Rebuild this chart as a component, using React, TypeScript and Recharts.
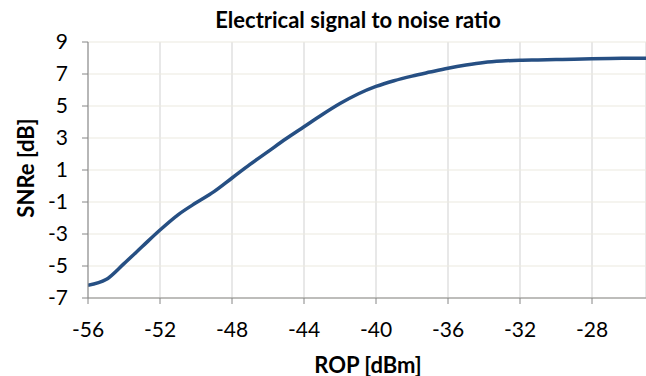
import React from "react";
import { LineChart, Line, XAxis, YAxis, CartesianGrid, Label } from "recharts";

const rop = [-56, -55, -54, -53, -52, -51, -50, -49, -48, -47, -46, -45, -44, -43, -42, -41, -40, -39, -38, -37, -36, -35, -34, -33, -32, -31, -30, -29, -28, -27, -26, -25];
const snre = [-6.2, -5.85, -4.85, -3.8, -2.75, -1.8, -1.05, -0.35, 0.5, 1.35, 2.15, 2.95, 3.7, 4.45, 5.15, 5.75, 6.22, 6.58, 6.87, 7.12, 7.36, 7.56, 7.72, 7.81, 7.86, 7.88, 7.9, 7.92, 7.95, 7.97, 7.98, 7.99];
const xTicks = [-56, -52, -48, -44, -40, -36, -32, -28];
const yTicks = [-7, -5, -3, -1, 1, 3, 5, 7, 9];

const data = rop.map((x, i) => ({ rop: x, snre: snre[i] }));

const FONT = "Lato, 'Noto Sans', sans-serif";

const App = () => {
  return (
    <div style={{ position: "absolute", left: 0, top: 0, width: 646, height: 376, background: "#fff", fontFamily: FONT }}>
      <LineChart width={646} height={376} data={data} margin={{ top: 42, right: 0, bottom: 48, left: 0 }}>
        <text x={358} y={28} textAnchor="middle" fontWeight={700} fontSize={22} fontFamily={FONT} fill="#000">
          Electrical signal to noise ratio
        </text>
        <CartesianGrid horizontal={false} stroke="#d9d9d9" strokeWidth={1.2} />
        <CartesianGrid vertical={false} stroke="#ebe9df" strokeWidth={1.2} />
        <XAxis
          dataKey="rop"
          type="number"
          domain={[-56, -25]}
          ticks={xTicks}
          height={30}
          stroke="#868686"
          tickSize={6}
          tickMargin={18}
          tick={{ fill: "#000", fontSize: 21, fontFamily: FONT }}
          allowDataOverflow
        >
          <Label
            content={() => (
              <text x={368} y={364} textAnchor="middle" dominantBaseline="central" fontWeight={700} fontSize={22} fontFamily={FONT} fill="#000">
                ROP [dBm]
              </text>
            )}
          />
        </XAxis>
        <YAxis
          type="number"
          domain={[-7, 9]}
          ticks={yTicks}
          width={88}
          stroke="#868686"
          tickSize={6}
          tickMargin={14}
          tick={{ fill: "#000", fontSize: 21, fontFamily: FONT }}
        >
          <Label
            content={() => (
              <text x={25} y={168} transform="rotate(-90 25 168)" textAnchor="middle" dominantBaseline="central" fontWeight={700} fontSize={22} fontFamily={FONT} fill="#000">
                SNRe [dB]
              </text>
            )}
          />
        </YAxis>
        <Line type="monotone" dataKey="snre" stroke="#264f83" strokeWidth={3.5} dot={false} isAnimationActive={false} />
      </LineChart>
    </div>
  );
};

export default App;
